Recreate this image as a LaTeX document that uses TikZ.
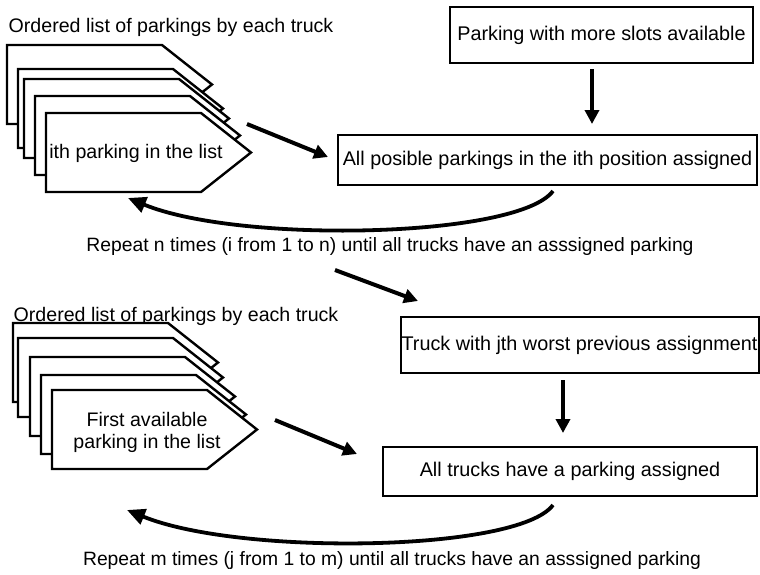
\documentclass[tikz,border=0pt]{standalone}
\usepackage{fontspec}
\setmainfont{Liberation Sans}
\usetikzlibrary{arrows.meta}
\begin{document}
\begin{tikzpicture}[x=1pt,y=-1pt,
  lbl/.style={font=\fontsize{19.6}{22}\selectfont, inner sep=0pt, align=center},
  note/.style={font=\fontsize{19.3}{22}\selectfont, inner sep=0pt},
  stepbox/.style={draw, line width=2pt, font=\fontsize{19.8}{22}\selectfont,
    inner sep=0pt, minimum width=#1},
  card/.pic={\draw[line width=2.4pt, fill=white, line join=miter]
    (0,0) -- (155,0) -- (205,39.5) -- (155,79) -- (0,79) -- cycle;},
  flow/.style={line width=4pt, -{Triangle[length=14pt,width=14pt]}},
  loopback/.style={line width=3.8pt, -{Triangle[length=18pt,width=16pt]}}]
\useasboundingbox (0,0) rectangle (760,574);

% ---------- first stage ----------
\node[lbl] (title1) at (171,27) {Ordered list of parkings by each truck};
\pic at (7,45) {card};
\pic at (18,69) {card};
\pic at (24,79) {card};
\pic at (35,96) {card};
\pic at (46,113) {card};
\node[lbl] (cardtxt1) at (136,153) {ith parking in the list};

\node[stepbox=303pt, minimum height=56pt] (slots) at (601.5,35)
  {Parking with more slots available};
\node[stepbox=419pt, minimum height=50pt] (ithpos) at (547.5,160)
  {All posible parkings in the ith position assigned};

\coordinate (a1s) at (247,124);
\coordinate (a1e) at (328,157);
\draw[flow] (a1s) -- (a1e);
\coordinate (a2s) at (592,69);
\coordinate (a2e) at (592,124);
\draw[flow] (a2s) -- (a2e);

\coordinate (l1s) at (553,191);
\coordinate (l1e) at (128,198);
\draw[loopback] (l1s) .. controls (518,238) and (240,244) .. (l1e);
\node[note] (rep1) at (390,247)
  {Repeat n times (i from 1 to n) until all trucks have an asssigned parking};

\coordinate (a3s) at (335,270);
\coordinate (a3e) at (418,301);
\draw[flow] (a3s) -- (a3e);

% ---------- second stage ----------
\node[lbl] (title2) at (176,316) {Ordered list of parkings by each truck};
\pic at (13,323) {card};
\pic at (18,338) {card};
\pic at (30,357) {card};
\pic at (41,375) {card};
\pic at (52,390) {card};
\node[lbl] (cardtxt2) at (147,432) {First available\\parking in the list};

\node[stepbox=358pt, minimum height=56pt] (worst) at (579.5,345)
  {Truck with jth worst previous assignment};
\node[stepbox=374pt, minimum height=49pt] (alltrucks) at (570,471.5)
  {All trucks have a parking assigned};

\coordinate (a4s) at (275,420);
\coordinate (a4e) at (357,454);
\draw[flow] (a4s) -- (a4e);
\coordinate (a5s) at (563,380);
\coordinate (a5e) at (563,433);
\draw[flow] (a5s) -- (a5e);

\coordinate (l2s) at (553,505);
\coordinate (l2e) at (127,510);
\draw[loopback] (l2s) .. controls (518,552) and (240,556) .. (l2e);
\node[note] (rep2) at (392,560)
  {Repeat m times (j from 1 to m) until all trucks have an asssigned parking};
\end{tikzpicture}
\end{document}
